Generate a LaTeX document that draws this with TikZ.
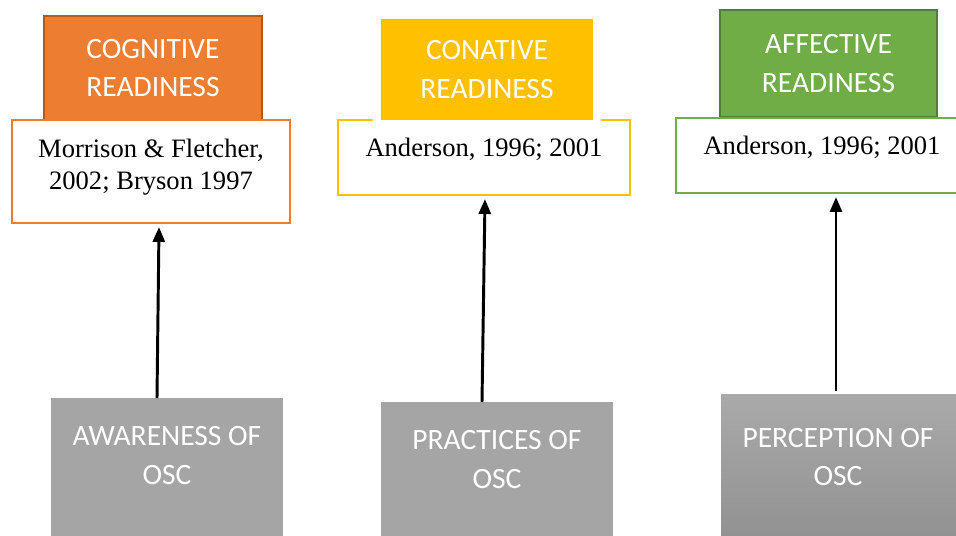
\documentclass[tikz,border=0pt]{standalone}
\usepackage{fontspec}
\setmainfont{Liberation Serif}
\newfontfamily\carlito{Carlito}
\usetikzlibrary{arrows.meta,calc,positioning}

\newdimen\pxl \pxl=0.025cm
\definecolor{cogorange}{HTML}{ED7D31}
\definecolor{cogedge}{HTML}{AE5A21}
\definecolor{conyellow}{HTML}{FFC000}
\definecolor{affgreen}{HTML}{70AD47}
\definecolor{affedge}{HTML}{507E32}
\definecolor{oscgray}{HTML}{A5A5A5}

\tikzset{
  headbox/.style={line width=1.06pt, text=white, align=center, inner sep=0pt,
    font=\carlito\fontsize{21}{27.3}\selectfont},
  refbox/.style={draw, fill=white, line width=1.5pt, align=center, inner sep=0pt,
    font=\fontsize{18.9}{22.7}\selectfont},
  oscbox/.style={fill=oscgray, inner sep=0pt, minimum height=166\pxl},
  osctext/.style={text=white, align=center, inner sep=0pt,
    font=\carlito\fontsize{21}{27.3}\selectfont},
  readarrow/.style={-{Triangle[length=10.6pt,width=8.5pt]}, line width=2.1pt}
}

\begin{document}
\begin{tikzpicture}[x=0.025cm, y=-0.025cm]
  \useasboundingbox (0,0) rectangle (956,536);

  % cognitive
  \node[headbox, fill=cogorange, draw=cogedge, minimum width=218\pxl, minimum height=104\pxl]
    (coghead) at (153,68) {COGNITIVE\\READINESS};
  \node[refbox, draw=cogorange, minimum width=278\pxl, minimum height=103\pxl, text depth=14\pxl]
    (cogref) at (151,171.5) {Morrison \& Fletcher,\\2002; Bryson 1997};

  % conative
  \node[refbox, draw=conyellow, minimum width=292\pxl, minimum height=75\pxl, text depth=20\pxl]
    (conref) at (484,157.5) {Anderson, 1996; 2001};
  \node[headbox, fill=conyellow, draw=white, line width=8\pxl, minimum width=220\pxl, minimum height=109\pxl]
    (conhead) at (487,69.5) {CONATIVE\\READINESS};

  % affective
  \node[headbox, fill=affgreen, draw=affedge, minimum width=217\pxl, minimum height=107\pxl]
    (affhead) at (828.5,63.5) {AFFECTIVE\\READINESS};
  \node[refbox, draw=affgreen, minimum width=292\pxl, minimum height=75\pxl, text depth=20\pxl]
    (affref) at (822,155.5) {Anderson, 1996; 2001};

  % OSC boxes
  \node[oscbox, minimum width=232\pxl, anchor=north] (aware) at (167,398) {};
  \node[osctext] (awaretxt) at (167,455.5) {AWARENESS OF\\OSC};
  \node[oscbox, minimum width=232\pxl, anchor=north] (practice) at (497,402) {};
  \node[osctext] (practicetxt) at (497,459.5) {PRACTICES OF\\OSC};
  \node[oscbox, minimum width=240\pxl, anchor=north, fill=none,
    top color=oscgray!95!white, bottom color=oscgray!86!black] (percept) at (841,394) {};
  \node[osctext] (percepttxt) at (838,457) {PERCEPTION OF\\OSC};

  \draw[readarrow] ($(aware.north)+(-10,0)$) -- ($(cogref.south)+(8,3)$);
  \draw[readarrow] ($(practice.north)+(-15,0)$) -- ($(conref.south)+(1,3)$);
  \draw[readarrow] ($(percept.north)+(-5,-3)$) -- ($(affref.south)+(14,3)$);
\end{tikzpicture}
\end{document}
